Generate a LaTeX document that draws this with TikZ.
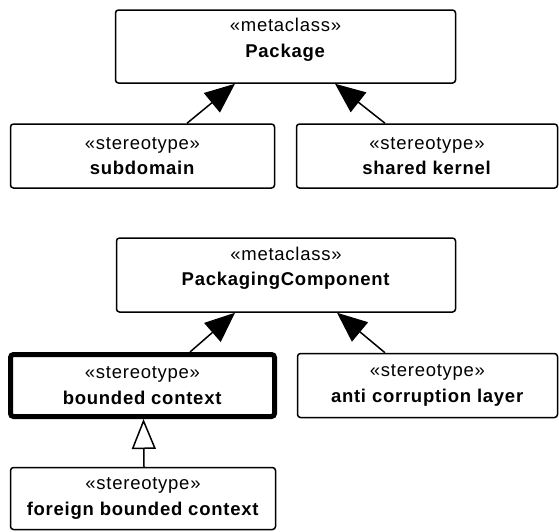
\documentclass[tikz,border=0pt]{standalone}
\usepackage{fontspec}
\setmainfont{Liberation Sans}[LetterSpace=4]
\usepackage{tikz}
\usetikzlibrary{arrows.meta}

\tikzset{
  umlbox/.style={draw, line width=1.5pt, rounded corners=3pt, align=center,
    font=\fontsize{18.5}{25.5}\selectfont},
  metabox/.style={umlbox, minimum height=73pt, text depth=17.5pt},
  stereobox/.style={umlbox, minimum height=64pt},
  extends/.style={line width=1.5pt, -{Triangle[length=30pt,width=25pt]}},
  specializes/.style={line width=1.5pt, -{Triangle[open,length=30pt,width=24pt,fill=white]}}
}

\begin{document}
\begin{tikzpicture}[x=1pt,y=-1pt]
  \useasboundingbox (0,0) rectangle (559,531);

  % Upper group: the metaclass Package and its stereotypes
  \node[metabox, minimum width=340pt] (pkg) at (285.5,46.5) {«metaclass»\\\textbf{Package}};
  \node[stereobox, minimum width=264pt] (subdomain) at (142.5,156) {«stereotype»\\\textbf{subdomain}};
  \node[stereobox, minimum width=261pt] (kernel) at (427,156) {«stereotype»\\\textbf{shared kernel}};

  % Extensions of Package
  \draw[extends] ([xshift=44.5pt]subdomain.north) -- ([xshift=-50.5pt]pkg.south);
  \draw[extends] ([xshift=-42pt]kernel.north) -- ([xshift=49.5pt]pkg.south);

  % Lower group: the metaclass PackagingComponent and its stereotypes
  \node[metabox, minimum width=339pt, minimum height=74pt] (pc) at (286,275) {«metaclass»\\\textbf{PackagingComponent}};
  \node[stereobox, line width=5pt, minimum width=264pt, minimum height=62pt] (bounded) at (142.5,385.5) {«stereotype»\\\textbf{bounded context}};
  \node[stereobox, minimum width=260pt, minimum height=64pt] (acl) at (427.5,385.5) {«stereotype»\\\textbf{anti corruption layer}};
  \node[stereobox, minimum width=265pt, minimum height=62pt] (foreign) at (143,498.5) {«stereotype»\\\textbf{foreign bounded context}};

  % Extensions of PackagingComponent
  \draw[extends] ([xshift=47.5pt]bounded.north) -- ([xshift=-51pt]pc.south);
  \draw[extends] ([xshift=-42.5pt]acl.north) -- ([xshift=51pt]pc.south);

  % Generalization between the stereotypes
  \draw[specializes] ([xshift=1pt]foreign.north) -- ([xshift=1pt]bounded.south);
\end{tikzpicture}
\end{document}
